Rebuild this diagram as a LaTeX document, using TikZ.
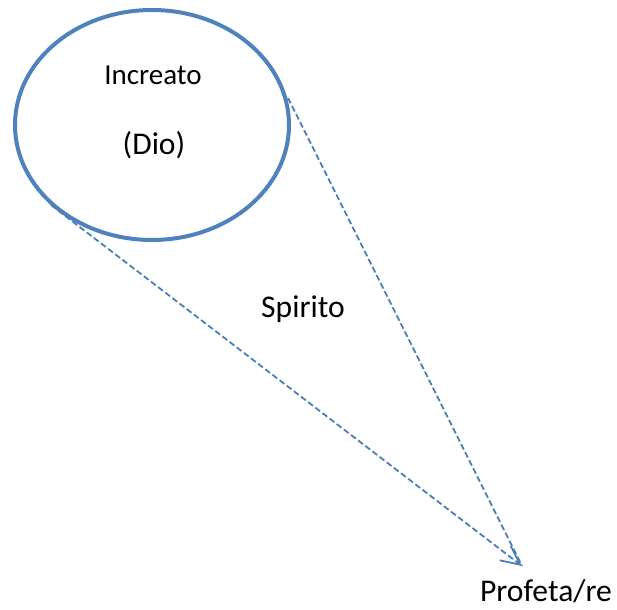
\documentclass[tikz,border=0pt]{standalone}
\usepackage{fontspec}
\setmainfont{Carlito}
\usetikzlibrary{arrows.meta,shapes.geometric}
\definecolor{oblue}{HTML}{4F81BD}
\definecolor{lblue}{HTML}{4A7EBB}
\tikzset{
  bigellipse/.style={draw=oblue, line width=4pt, ellipse, minimum width=274pt, minimum height=230pt, inner sep=0pt, outer sep=0pt},
  spirit/.style={draw=lblue, line width=1.8pt, dash pattern=on 6pt off 3pt},
  lbl/.style={anchor=base, inner sep=0pt, text=black},
}
\begin{document}
\begin{tikzpicture}[x=1pt,y=1pt]
\useasboundingbox (0,0) rectangle (617,609);
\node[bigellipse] (dio) at (152,484) {};
\node[lbl, font=\fontsize{29}{34}\selectfont] (increato) at (153,524) {Increato};
\node[lbl, font=\fontsize{31.6}{37}\selectfont] (diotxt) at (154,454) {(Dio)};
\node[lbl, font=\fontsize{31.6}{37}\selectfont] (spirito) at (303,291) {Spirito};
\node[lbl, font=\fontsize{31.6}{37}\selectfont] (profeta) at (546,7) {Profeta/re};
\path (dio.center) ++(136,27) coordinate (rstart);
\path (dio.center) ++(-101,-80) coordinate (lstart);
\coordinate (tip) at (522,43);
\draw[spirit] (rstart) -- (tip);
\draw[spirit, -{Straight Barb[length=19pt,width=18pt,line width=1.8pt]}] (lstart) -- (tip);
\end{tikzpicture}
\end{document}
